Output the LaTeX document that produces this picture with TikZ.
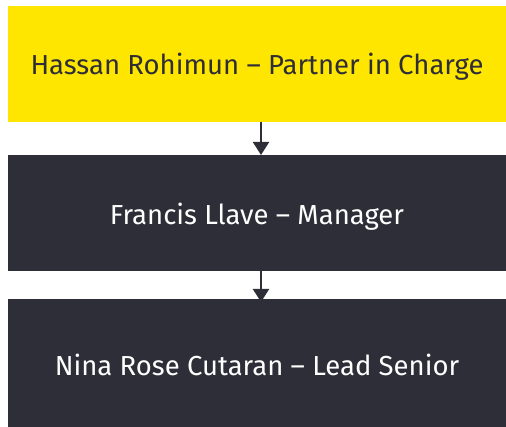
\documentclass[tikz,border=0pt]{standalone}
\usepackage{fontspec}
\setmainfont{Fira Sans}
\usetikzlibrary{arrows.meta}
\definecolor{eyyellow}{HTML}{FFE600}
\definecolor{eydark}{HTML}{2E2E38}
\begin{document}
\begin{tikzpicture}[x=1pt,y=1pt,
  box/.style={rectangle, inner sep=0pt, minimum width=498pt, anchor=north, text height=19pt, text depth=0pt, font=\fontsize{27.5}{32}\selectfont},
  yellowbox/.style={box, fill=eyyellow, text=eydark},
  darkbox/.style={box, fill=eydark, text=white},
  conn/.style={draw=eydark, line width=2pt, -{Triangle[width=16pt,length=13pt]}}]
\useasboundingbox (0,0) rectangle (506,-427);
\node[yellowbox, minimum height=116pt] (b1) at (257,-6) {\raisebox{-1pt}{Hassan Rohimun – Partner in Charge}};
\node[darkbox, minimum height=116pt] (b2) at (257,-155) {\raisebox{-1.5pt}{Francis Llave – Manager}};
\node[darkbox, minimum height=128pt] (b3) at (257,-299) {\raisebox{-2.5pt}{Nina Rose Cutaran – Lead Senior}};
\coordinate (a1s) at (261,-122);
\coordinate (a1e) at (261,-155);
\coordinate (a2s) at (261,-271);
\coordinate (a2e) at (261,-302);
\draw[conn] (a1s) -- (a1e);
\draw[conn] (a2s) -- (a2e);
\end{tikzpicture}
\end{document}
